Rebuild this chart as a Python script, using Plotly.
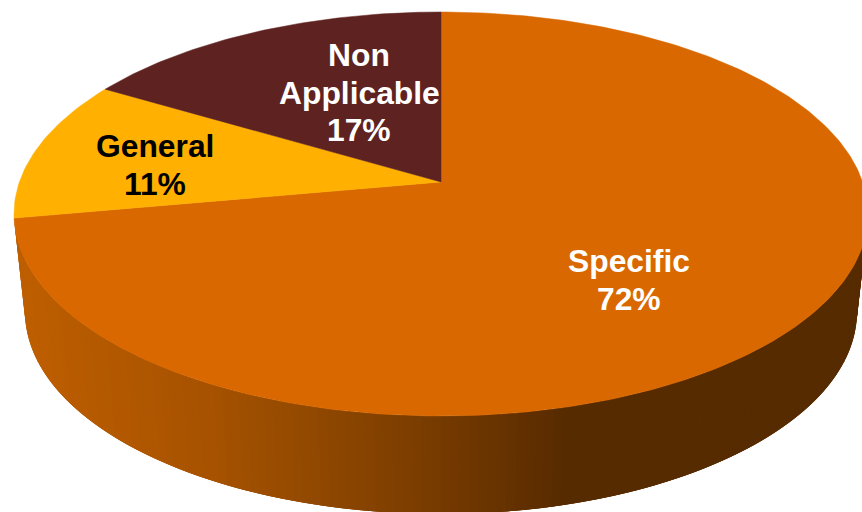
import numpy as np
import plotly.graph_objects as go

# Data
categories = ["Specific", "General", "Non Applicable"]
percent_labels = ["72%", "11%", "17%"]
# slice shares as measured on the drawn pie
shares = [72.15, 11.35, 16.5]
slice_colors = ["#D96800", "#FFB000", "#5E2220"]
text_colors = ["white", "black", "white"]
label_lines = [["Specific"], ["General"], ["Non", "Applicable"]]
label_x = [629, 155, 359]
label_y = [261, 146, 55]
line_step = 37.5
font_size = 31.8

W, H = 862, 512
# projection of the pie disc to the page
apex_x, apex_y = 441, 182
top_up, top_down = 170, 234
k = (top_up - top_down) / (top_up + top_down)
B = top_up * (1 - k)
ell_cx, ell_cy, ell_a, ell_b = 441, 214, 427, 202
A = ell_a * np.sqrt(1 - k * k)
bot_cx, bot_cy, bot_a, bot_b = 441, 312, 416, 202

wall_x = [14, 30, 200, 300, 420, 570, 862]
wall_r = [0xBE, 0xBD, 0xA8, 0x94, 0x7B, 0x57, 0x57]
wall_g = [0x5F, 0x5E, 0x53, 0x4A, 0x3D, 0x2B, 0x2B]
wall_b = [0, 0, 0, 0, 0, 0, 0]


def disc_point(frac):
    th = 2 * np.pi * np.asarray(frac)
    u, v = np.sin(th), -np.cos(th)
    d = 1 + k * v
    return apex_x + A * u / d, apex_y + B * v / d


fig = go.Figure()

# side wall: narrow strips painted left to right, each running under the next
edges = np.linspace(np.pi, 0, 141)
step = edges[0] - edges[1]
for t0 in edges[:-1]:
    t1 = max(t0 - 3 * step, 0)
    xs = [ell_cx + ell_a * np.cos(t0), ell_cx + ell_a * np.cos(t1),
          bot_cx + bot_a * np.cos(t1), bot_cx + bot_a * np.cos(t0)]
    ys = [ell_cy + ell_b * np.sin(t0), ell_cy + ell_b * np.sin(t1),
          bot_cy + bot_b * np.sin(t1), bot_cy + bot_b * np.sin(t0)]
    mx = ell_cx + ell_a * np.cos(t0 - step / 2)
    col = "rgb(%d,%d,%d)" % (np.interp(mx, wall_x, wall_r),
                             np.interp(mx, wall_x, wall_g),
                             np.interp(mx, wall_x, wall_b))
    fig.add_trace(go.Scatter(x=xs, y=ys, mode="none", fill="toself", fillcolor=col,
                             hoverinfo="skip", showlegend=False))

# top face slices
start = 0.0
total = sum(shares)
for name, p, c in zip(categories, shares, slice_colors):
    fr = np.linspace(start, start + p / total, max(int(p * 4), 8))
    ex, ey = disc_point(fr)
    fig.add_trace(go.Scatter(x=[apex_x, *ex, apex_x], y=[apex_y, *ey, apex_y], mode="lines",
                             fill="toself", fillcolor=c, line=dict(color=c, width=0.5),
                             name=name, hoverinfo="skip", showlegend=False))
    start += p / total

# labels
annotations = []
for lines, pl, lx, ly, tc in zip(label_lines, percent_labels, label_x, label_y, text_colors):
    for i, s in enumerate(lines + [pl]):
        annotations.append(dict(x=lx, y=ly + i * line_step, text=f"<b>{s}</b>", showarrow=False,
                                xanchor="center", yanchor="middle",
                                font=dict(family="Liberation Sans", size=font_size, color=tc)))

fig.update_layout(
    width=W, height=H, margin=dict(l=0, r=0, t=0, b=0),
    paper_bgcolor="white", plot_bgcolor="white",
    xaxis=dict(range=[0, W], visible=False, fixedrange=True),
    yaxis=dict(range=[H, 0], visible=False, fixedrange=True),
    annotations=annotations, showlegend=False,
)
fig.write_html("out.html", config={"displayModeBar": False},
               post_script="document.body.style.margin='0';document.body.style.overflow='hidden';")
